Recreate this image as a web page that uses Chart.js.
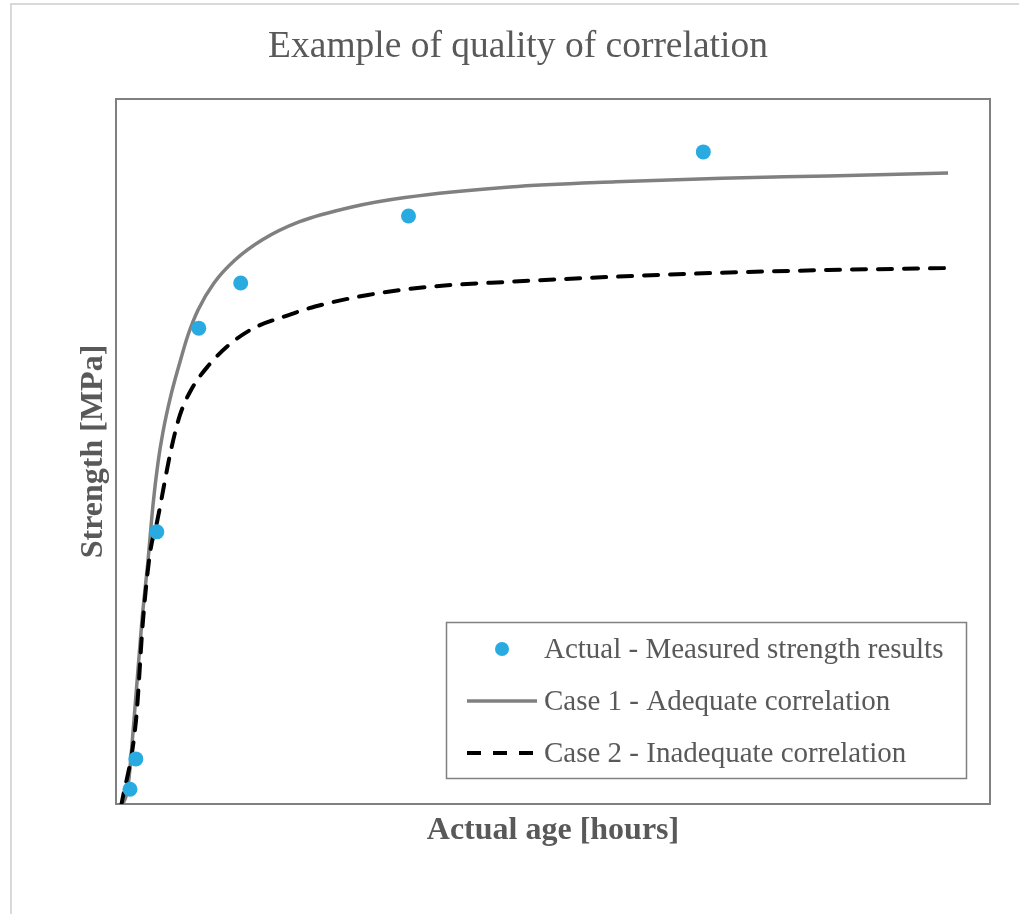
<!DOCTYPE html>
<html>
<head>
<meta charset="utf-8">
<title>Example of quality of correlation</title>
<script src="https://cdn.jsdelivr.net/npm/chart.js@4.4.1/dist/chart.umd.min.js"></script>
<style>
  html, body { margin: 0; padding: 0; background: #fff; overflow: hidden; }
  #wrap { position: relative; width: 1019px; height: 914px; }
  #frame {
    position: absolute; left: 10px; top: 3px; width: 1020px; height: 920px;
    border-left: 2px solid #d9d9d9; border-top: 2px solid #d9d9d9;
    pointer-events: none;
  }
  canvas { position: absolute; left: 0; top: 0; }
</style>
</head>
<body>
<div id="wrap">
  <canvas id="grafico" width="1019" height="914"></canvas>
  <div id="frame"></div>
</div>
<script>
// measured points (age in hours, strength in MPa)
const ageMeasured = [12, 17, 35, 71, 107, 251, 504];
const strengthMeasured = [1.05, 3.2, 19.3, 33.75, 36.95, 41.7, 46.25];

// case 1 - adequate correlation curve
const ageCase1 = [5.15, 10.3, 15.45, 22.3, 27.5, 31.75, 36.0, 40.3, 47.2, 54.9, 61.8, 70.4, 84.1, 102.1, 125.3,
  157.0, 202.5, 248.0, 338.1, 429.1, 520.0, 611.0, 714.0];
const strengthCase1 = [-0.14, 1.21, 5.96, 13.05, 17.3, 21.21, 24.18, 26.38, 29.01, 31.35, 33.26, 35.04, 36.95, 38.58, 40.0,
  41.28, 42.34, 43.01, 43.76, 44.13, 44.38, 44.54, 44.75];

// case 2 - inadequate correlation curve
const ageCase2 = [4.3, 17.2, 23.2, 29.2, 35.2, 47.2, 54.9, 64.4, 79.0, 97.8, 118.4, 144.2, 170.8,
  216.2, 270.3, 338.1, 429.1, 520.0, 611.0, 714.0];
const strengthCase2 = [-0.21, 5.96, 13.05, 17.8, 20.0, 25.11, 27.59, 29.36, 31.06, 32.62, 33.76, 34.57, 35.28,
  36.1, 36.69, 37.04, 37.4, 37.68, 37.87, 38.01];

const xMax = 750;
const yMax = 50;

const serif = '"Liberation Serif", "Times New Roman", serif';
const textGray = "#595959";

function pontos(xs, ys) {
    return xs.map((x, i) => ({ x: x, y: ys[i] }));
}

// plot frame
const molduraPlugin = {
    id: "moldura",
    beforeDatasetsDraw(chart) {
        const { ctx, chartArea: a } = chart;
        ctx.save();
        ctx.strokeStyle = "#808080";
        ctx.lineWidth = 2;
        ctx.strokeRect(a.left, a.top, a.right - a.left, a.bottom - a.top);
        ctx.restore();
    }
};

// legend box inside the plot
const legendaPlugin = {
    id: "legendaInterna",
    afterDraw(chart) {
        const ctx = chart.ctx;
        const box = { x: 446.5, y: 622.5, w: 520, h: 156 };
        ctx.save();
        ctx.fillStyle = "#fff";
        ctx.fillRect(box.x, box.y, box.w, box.h);
        ctx.strokeStyle = "#808080";
        ctx.lineWidth = 1.5;
        ctx.strokeRect(box.x, box.y, box.w, box.h);

        ctx.font = "29px " + serif;
        ctx.textBaseline = "middle";
        ctx.textAlign = "left";
        chart.data.datasets.forEach((ds, i) => {
            const y = 649 + i * 52;
            if (ds.type === "scatter") {
                ctx.fillStyle = ds.backgroundColor;
                ctx.beginPath();
                ctx.arc(502, y, 7, 0, Math.PI * 2);
                ctx.fill();
            } else {
                ctx.strokeStyle = ds.borderColor;
                ctx.lineWidth = ds.borderWidth;
                ctx.setLineDash(ds.borderDash || []);
                ctx.beginPath();
                ctx.moveTo(467, y);
                ctx.lineTo(537, y);
                ctx.stroke();
                ctx.setLineDash([]);
            }
            ctx.fillStyle = textGray;
            ctx.fillText(ds.label, 544, y + 1);
        });
        ctx.restore();
    }
};

new Chart(document.getElementById("grafico"), {
    data: {
        datasets: [
            {
                type: "scatter",
                label: "Actual - Measured strength results",
                data: pontos(ageMeasured, strengthMeasured),
                backgroundColor: "#29abe2",
                borderColor: "#29abe2",
                pointRadius: 7.5,
                pointBorderWidth: 0,
                order: 0
            },
            {
                type: "line",
                label: "Case 1 - Adequate correlation",
                data: pontos(ageCase1, strengthCase1),
                borderColor: "#808080",
                borderWidth: 3.5,
                pointRadius: 0,
                cubicInterpolationMode: "monotone",
                fill: false,
                order: 2
            },
            {
                type: "line",
                label: "Case 2 - Inadequate correlation",
                data: pontos(ageCase2, strengthCase2),
                borderColor: "#000000",
                borderWidth: 4,
                borderDash: [14, 12],
                borderCapStyle: "round",
                pointRadius: 0,
                cubicInterpolationMode: "monotone",
                fill: false,
                order: 1
            }
        ]
    },
    options: {
        responsive: false,
        animation: false,
        devicePixelRatio: 1,
        layout: { padding: { left: 46, right: 29, top: 0, bottom: 0 } },
        plugins: {
            legend: { display: false },
            tooltip: { enabled: false },
            title: {
                display: true,
                text: "Example of quality of correlation",
                color: textGray,
                font: { family: serif, size: 37.5, weight: "normal" },
                padding: { top: 24.5, bottom: 29.5 }
            }
        },
        scales: {
            x: {
                type: "linear",
                min: 0,
                max: xMax,
                grid: { display: false },
                border: { display: false },
                ticks: { display: false },
                title: {
                    display: true,
                    text: "Actual age [hours]",
                    color: textGray,
                    font: { family: serif, size: 32, weight: "bold" },
                    padding: { top: 0, bottom: 63.8 }
                },
                afterFit(scale) { scale.height = 110; }
            },
            y: {
                type: "linear",
                min: 0,
                max: yMax,
                grid: { display: false },
                border: { display: false },
                ticks: { display: false },
                title: {
                    display: true,
                    text: "Strength [MPa]",
                    color: textGray,
                    font: { family: serif, size: 32, weight: "bold" },
                    padding: { top: 28.8, bottom: 0 }
                },
                afterFit(scale) { scale.width = 70; }
            }
        }
    },
    plugins: [molduraPlugin, legendaPlugin]
});
</script>
</body>
</html>
